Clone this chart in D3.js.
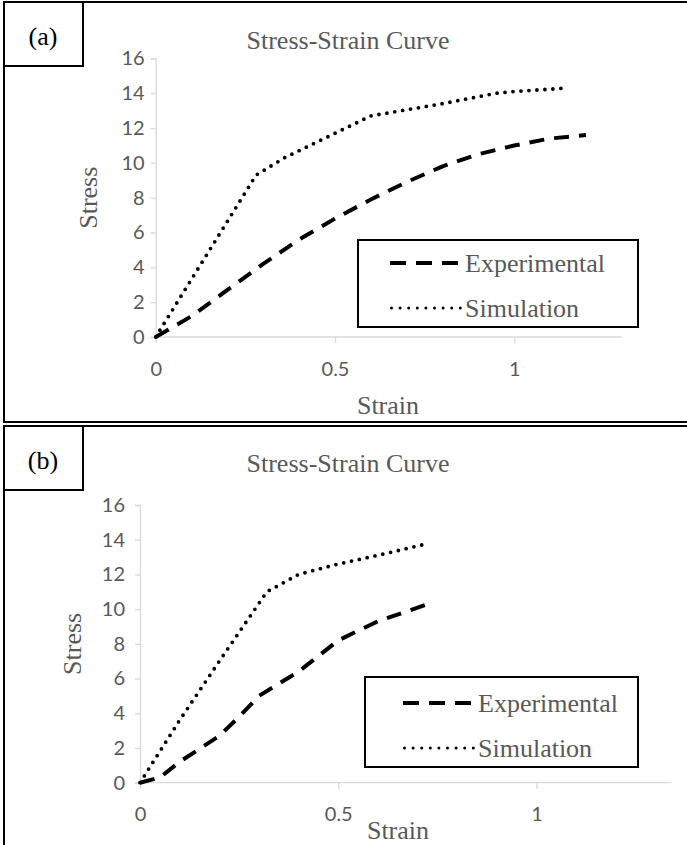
<!DOCTYPE html>
<html><head><meta charset="utf-8">
<script src="https://cdn.jsdelivr.net/npm/d3@7"></script>
<style>body{margin:0;background:#fff}svg{display:block}</style>
</head><body>
<svg id="c" width="687" height="845"></svg>
<script>
// ---- data ----
const seriesNames = ["Experimental", "Simulation"];
const yTicks = [0, 2, 4, 6, 8, 10, 12, 14, 16];
const xTicks = [0, 0.5, 1];
const xTickLabels = ["0", "0.5", "1"];
const titleText = "Stress-Strain Curve";
const panelLabels = ["(a)", "(b)"];
const xMaxA = 1.3, xMaxB = 1.34;
// panel (a)
const expA_strain = [0, 0.1, 0.2, 0.3, 0.4, 0.5, 0.6, 0.7, 0.8, 0.9, 1.0, 1.1, 1.2];
const expA_stress = [0, 1.2, 2.7, 4.2, 5.6, 6.8, 7.9, 8.9, 9.8, 10.5, 11.0, 11.4, 11.6];
const simA_strain = [0, 0.28, 0.36, 0.45, 0.6, 0.8, 0.95, 1.0, 1.15];
const simA_stress = [0, 9.3, 10.3, 11.2, 12.7, 13.4, 14.0, 14.1, 14.3];
// panel (b)
const expB_strain = [0, 0.05, 0.1, 0.2, 0.25, 0.3, 0.4, 0.5, 0.6, 0.74];
const expB_stress = [0, 0.3, 1.2, 2.7, 3.8, 5.0, 6.4, 8.2, 9.3, 10.4];
const simB_strain = [0, 0.1, 0.2, 0.32, 0.4, 0.5, 0.6, 0.73];
const simB_stress = [0, 3.6, 7.0, 11.0, 12.0, 12.6, 13.1, 13.8];

const svg = d3.select("#c");
const serif = "'Liberation Serif','Times New Roman',serif";
const sans = "Lato,'Open Sans',sans-serif";
const gray = "#595959";
const FS = 26;

function serifText(g, x, y, txt, size, anchor, color) {
  return g.append("text")
    .attr("x", x).attr("y", y)
    .attr("text-anchor", anchor || "middle")
    .attr("dominant-baseline", "central")
    .style("font-family", serif).style("font-size", size + "px")
    .attr("fill", color || gray).text(txt);
}

function panel(cfg) {
  const g = svg.append("g");
  g.append("rect").attr("x", 4).attr("y", cfg.top).attr("width", 686).attr("height", cfg.height)
    .attr("fill", "none").attr("stroke", "#000").attr("stroke-width", 2);

  const x = d3.scaleLinear().domain([0, cfg.xMax]).range(cfg.xr);
  const y = d3.scaleLinear().domain([0, 16]).range(cfg.yr);

  serifText(g, 348, cfg.titleY, titleText, FS);

  const ya = g.append("g").attr("transform", `translate(${cfg.xr[0]},0)`)
    .call(d3.axisLeft(y).tickValues(yTicks).tickSize(5).tickPadding(cfg.yPad).tickFormat(d3.format("d")));
  ya.select(".domain").attr("stroke", "#d9d9d9").attr("stroke-width", 1.3);
  ya.selectAll(".tick line").attr("stroke", "#d9d9d9").attr("stroke-width", 1.3);
  ya.selectAll(".tick text").attr("fill", gray).style("font-family", sans).style("font-size", "20px");

  const xa = g.append("g").attr("transform", `translate(0,${cfg.yr[0]})`)
    .call(d3.axisBottom(x).tickValues(xTicks).tickSize(6).tickPadding(cfg.xPad)
      .tickFormat((d, i) => xTickLabels[i]));
  xa.select(".domain").attr("stroke", "#d9d9d9").attr("stroke-width", 1.3).attr("d", `M${cfg.xr[0]},0V0H${cfg.xr[1]}`);
  xa.selectAll(".tick line").attr("stroke", "#d9d9d9").attr("stroke-width", 1.3);
  xa.selectAll(".tick text").attr("fill", gray).style("font-family", sans).style("font-size", "20px");

  serifText(g, cfg.strainX, cfg.strainY, "Strain", FS);
  g.append("text")
    .attr("transform", `translate(${cfg.stressX},${(cfg.yr[0] + cfg.yr[1]) / 2}) rotate(-90)`)
    .attr("text-anchor", "middle").attr("dominant-baseline", "central")
    .style("font-family", serif).style("font-size", FS + "px").attr("fill", gray).text("Stress");

  const line = d3.line().x(d => x(d[0])).y(d => y(d[1]));
  const exp = cfg.expX.map((v, i) => [v, cfg.expY[i]]);
  const sim = cfg.simX.map((v, i) => [v, cfg.simY[i]]);
  g.append("path").datum(sim).attr("d", line).attr("fill", "none").attr("stroke", "#000")
    .attr("stroke-width", 3.8).attr("stroke-linecap", "round").attr("stroke-dasharray", "0,8");
  g.append("path").datum(exp).attr("d", line).attr("fill", "none").attr("stroke", "#000")
    .attr("stroke-width", 4).attr("stroke-dasharray", "15,10");

  const L = cfg.legend;
  g.append("rect").attr("x", L.x0).attr("y", L.y0).attr("width", L.x1 - L.x0).attr("height", L.y1 - L.y0)
    .attr("fill", "#fff").attr("stroke", "#000").attr("stroke-width", 2);
  g.append("line").attr("x1", L.sx0).attr("x2", L.sx1).attr("y1", L.ey).attr("y2", L.ey)
    .attr("stroke", "#000").attr("stroke-width", 4).attr("stroke-dasharray", "16,10");
  g.append("line").attr("x1", L.sx0 + 1.5).attr("x2", L.sx1).attr("y1", L.sy).attr("y2", L.sy)
    .attr("stroke", "#000").attr("stroke-width", 3).attr("stroke-linecap", "round").attr("stroke-dasharray", "0,8.6");
  serifText(g, L.sx1 + 3, L.ey, seriesNames[0], FS, "start");
  serifText(g, L.sx1 + 3, L.sy, seriesNames[1], FS, "start");

  g.append("rect").attr("x", 4).attr("y", cfg.top).attr("width", 79).attr("height", 64)
    .attr("fill", "#fff").attr("stroke", "#000").attr("stroke-width", 2);
  g.append("text").attr("x", 43).attr("y", cfg.top + 34).attr("text-anchor", "middle")
    .attr("dominant-baseline", "central").style("font-family", serif).style("font-size", "26px")
    .attr("fill", "#000").text(cfg.label);
}

panel({
  top: 2, height: 420, label: panelLabels[0], titleY: 40, xMax: xMaxA,
  xr: [155.7, 155.7 + xMaxA * 358.6], yr: [337, 58.4], yPad: 6, xPad: 19, strainX: 388, strainY: 405, stressX: 88,
  expX: expA_strain, expY: expA_stress, simX: simA_strain, simY: simA_stress,
  legend: { x0: 358, x1: 638, y0: 240, y1: 327, sx0: 390, sx1: 462, ey: 263, sy: 308 }
});
panel({
  top: 426, height: 430, label: panelLabels[1], titleY: 463, xMax: xMaxB,
  xr: [140, 140 + xMaxB * 396.5], yr: [782.7, 505], yPad: 10, xPad: 18, strainX: 398, strainY: 830, stressX: 72,
  expX: expB_strain, expY: expB_stress, simX: simB_strain, simY: simB_stress,
  legend: { x0: 365, x1: 638, y0: 677, y1: 767, sx0: 403, sx1: 475, ey: 703, sy: 748 }
});
</script>
</body></html>
